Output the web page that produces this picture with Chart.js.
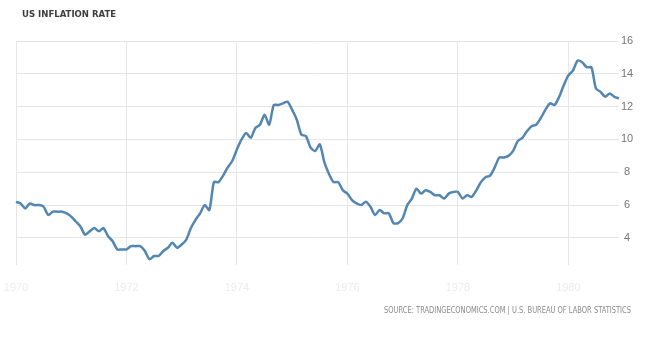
<!DOCTYPE html>
<html>
<head>
<meta charset="utf-8">
<script src="https://cdn.jsdelivr.net/npm/chart.js@4/dist/chart.umd.min.js"></script>
<style>
  html, body { margin: 0; padding: 0; background: #fff; }
  #wrap { width: 661px; height: 342px; }
</style>
</head>
<body>
<div id="wrap"><canvas id="inflationChart" width="661" height="342"></canvas></div>
<script>
// monthly year-over-year CPI inflation, Jan 1970 .. Dec 1980
const years = [1970, 1971, 1972, 1973, 1974, 1975, 1976, 1977, 1978, 1979, 1980];
const rate1970 = [6.2, 6.1, 5.8, 6.1, 6.0, 6.0, 5.9, 5.4, 5.6, 5.6, 5.6, 5.5];
const rate1971 = [5.3, 5.0, 4.7, 4.2, 4.4, 4.6, 4.4, 4.6, 4.1, 3.8, 3.3, 3.3];
const rate1972 = [3.3, 3.5, 3.5, 3.5, 3.2, 2.7, 2.9, 2.9, 3.2, 3.4, 3.7, 3.4];
const rate1973 = [3.6, 3.9, 4.6, 5.1, 5.5, 6.0, 5.7, 7.4, 7.4, 7.8, 8.3, 8.7];
const rate1974 = [9.4, 10.0, 10.4, 10.1, 10.7, 10.9, 11.5, 10.9, 12.1, 12.1, 12.2, 12.3];
const rate1975 = [11.8, 11.2, 10.3, 10.2, 9.5, 9.3, 9.7, 8.6, 7.9, 7.4, 7.4, 6.9];
const rate1976 = [6.7, 6.3, 6.1, 6.0, 6.2, 5.9, 5.4, 5.7, 5.5, 5.5, 4.9, 4.9];
const rate1977 = [5.2, 6.0, 6.4, 7.0, 6.7, 6.9, 6.8, 6.6, 6.6, 6.4, 6.7, 6.8];
const rate1978 = [6.8, 6.4, 6.6, 6.5, 6.9, 7.4, 7.7, 7.8, 8.3, 8.9, 8.9, 9.0];
const rate1979 = [9.3, 9.9, 10.1, 10.5, 10.8, 10.9, 11.3, 11.8, 12.2, 12.1, 12.6, 13.3];
const rate1980 = [13.9, 14.2, 14.8, 14.7, 14.4, 14.4, 13.1, 12.9, 12.6, 12.8, 12.6, 12.5];
const yTicks = [4, 6, 8, 10, 12, 14, 16];

const monthNames = ['Jan', 'Feb', 'Mar', 'Apr', 'May', 'Jun', 'Jul', 'Aug', 'Sep', 'Oct', 'Nov', 'Dec'];
const labels = [];
years.forEach(y => monthNames.forEach(m => labels.push(m + ' ' + y)));
const values = [].concat(rate1970, rate1971, rate1972, rate1973, rate1974, rate1975,
                         rate1976, rate1977, rate1978, rate1979, rate1980);

const sourceText = 'SOURCE: TRADINGECONOMICS.COM | U.S. BUREAU OF LABOR STATISTICS';

// title and source line
const textPlugin = {
    id: 'textPlugin',
    afterDraw(chart) {
        const c = chart.ctx;
        c.save();
        c.fillStyle = '#3d3d3d';
        c.font = 'bold 9.5px "DejaVu Sans Condensed", sans-serif';
        c.textBaseline = 'middle';
        c.textAlign = 'left';
        c.fillText('US INFLATION RATE', 22, 15);

        // stretch the source line over the same span as the reference
        c.fillStyle = '#8a8a8a';
        c.font = '8px "DejaVu Sans Condensed", sans-serif';
        const w = c.measureText(sourceText).width;
        const spacing = Math.max(0, (247 - w) / (sourceText.length - 1));
        c.letterSpacing = spacing.toFixed(2) + 'px';
        c.fillText(sourceText, 384, 311, 247);
        c.restore();
    }
};

const ctx = document.getElementById('inflationChart').getContext('2d');
new Chart(ctx, {
    type: 'line',
    data: {
        labels: labels,
        datasets: [{
            data: values,
            borderColor: '#5386b0',
            borderWidth: 2.5,
            pointRadius: 0,
            tension: 0.25,
            fill: false
        }]
    },
    options: {
        responsive: false,
        animation: false,
        layout: { padding: { left: 16, top: 41, right: 0, bottom: 0 } },
        plugins: {
            legend: { display: false },
            tooltip: { enabled: false }
        },
        scales: {
            x: {
                type: 'category',
                offset: false,
                border: { display: false },
                grid: {
                    drawTicks: false,
                    color: c => (c.index % 24 === 0 ? '#e6e6e6' : 'rgba(0,0,0,0)')
                },
                ticks: {
                    autoSkip: false,
                    maxRotation: 0,
                    padding: 3,
                    color: '#ececec',
                    font: { family: 'Liberation Sans', size: 11 },
                    // empty first line pushes the faint year down under the plot
                    callback: (v, i) => (i % 24 === 0 ? ['', String(years[i / 12])] : '')
                },
                afterFit: s => { s.height = 77; }
            },
            y: {
                position: 'right',
                min: 2.35,
                max: 16,
                border: { display: false },
                grid: { drawTicks: false, color: '#e6e6e6' },
                afterBuildTicks: s => { s.ticks = yTicks.map(v => ({ value: v })); },
                ticks: {
                    padding: 2,
                    crossAlign: 'center',
                    color: '#777',
                    font: { family: 'Liberation Sans', size: 11 }
                },
                afterFit: s => { s.width = 42; }
            }
        }
    },
    plugins: [textPlugin]
});
</script>
</body>
</html>
